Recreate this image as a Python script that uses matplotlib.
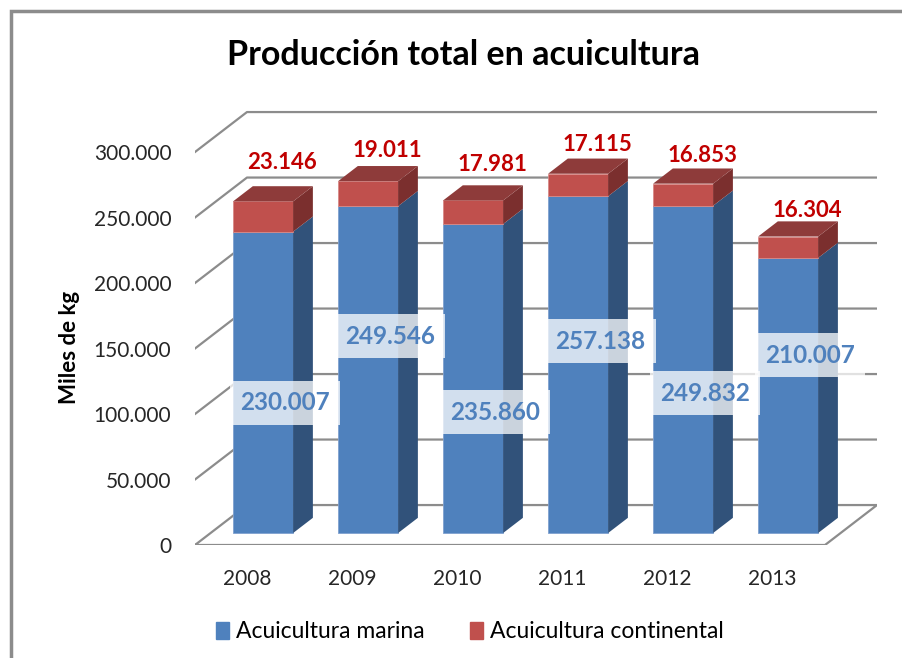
import matplotlib
matplotlib.use('Agg')
import matplotlib.pyplot as plt
from matplotlib.patches import Patch, Rectangle
from matplotlib.ticker import FuncFormatter
import numpy as np

plt.rcParams['font.family'] = ['Lato', 'DejaVu Sans']

# datos
anios = ['2008', '2009', '2010', '2011', '2012', '2013']
marina = [230007, 249546, 235860, 257138, 249832, 210007]
continental = [23146, 19011, 17981, 17115, 16853, 16304]
etiquetas_marina = ['230.007', '249.546', '235.860', '257.138', '249.832', '210.007']
etiquetas_cont = ['23.146', '19.011', '17.981', '17.115', '16.853', '16.304']

# disposicion de las etiquetas (como en el original de Excel)
y_etiq_marina = [108400, 159500, 101500, 155700, 116000, 145000]
y_etiq_cont = [292000, 301100, 290500, 305700, 297300, 255300]

# perspectiva oblicua
DX = 0.495      # desplazamiento en x por profundidad completa
DY = 30500      # desplazamiento en y por profundidad completa
D1, D2 = 0.30, 0.68   # profundidad de las barras
ANCHO = 0.572

azul, azul_lado = '#4F81BD', '#31527A'
rojo, rojo_top, rojo_lado = '#C0504D', '#8E3B3A', '#7B2F2E'
gris = '#8C8C8C'


def proy(x, y, d):
    return x + d * DX, y + d * DY


def caja(ax, xc, y0, y1, c_frente, c_lado, c_top=None):
    x0, x1 = xc - ANCHO / 2, xc + ANCHO / 2
    # frente
    pts = [proy(x0, y0, D1), proy(x1, y0, D1), proy(x1, y1, D1), proy(x0, y1, D1)]
    ax.fill(*zip(*pts), color=c_frente, zorder=3, lw=0.6, ec='#7FA0CF' if c_frente == azul else '#D98A88')
    # lado
    pts = [proy(x1, y0, D1), proy(x1, y0, D2), proy(x1, y1, D2), proy(x1, y1, D1)]
    ax.fill(*zip(*pts), color=c_lado, zorder=3, lw=0)
    if c_top is not None:
        pts = [proy(x0, y1, D1), proy(x1, y1, D1), proy(x1, y1, D2), proy(x0, y1, D2)]
        ax.fill(*zip(*pts), color=c_top, zorder=3, lw=0)


W, H = 903, 658
fig = plt.figure(figsize=(W / 100, H / 100), dpi=100)
ax = fig.add_axes([195 / W, 113 / H, (877 - 195) / W, 445 / H])
n = len(anios)
ax.set_xlim(-0.5, n - 0.5 + DX)
ax.set_ylim(0, 339700)

# paredes y piso
ticks = np.arange(0, 300001, 50000)
for t in ticks[1:]:
    ax.plot([-0.5, -0.5 + DX, n - 0.5 + DX], [t, t + DY, t + DY], color=gris, lw=1.6, zorder=1)
piso = [proy(-0.5, 0, 0), proy(n - 0.5, 0, 0), proy(n - 0.5, 0, 1), proy(-0.5, 0, 1), proy(-0.5, 0, 0)]
ax.plot(*zip(*piso), color=gris, lw=1.6, zorder=1)

# barras
for i in range(n):
    caja(ax, i, 0, marina[i], azul, azul_lado)
    caja(ax, i, marina[i], marina[i] + continental[i], rojo, rojo_lado, rojo_top)
    ax.text(i + 0.36, y_etiq_marina[i], etiquetas_marina[i], color=azul, fontsize=17.5,
            fontweight='bold', ha='center', va='center', zorder=5,
            bbox=dict(boxstyle='square,pad=0.42', fc='white', ec='none', alpha=0.75))
    ax.text(i + 0.33, y_etiq_cont[i], etiquetas_cont[i], color='#C00000', fontsize=16,
            fontweight='bold', ha='center', va='center', zorder=5)

ax.set_yticks(ticks)
ax.yaxis.set_major_formatter(FuncFormatter(lambda v, p: f'{int(v):,}'.replace(',', '.')))
ax.set_xticks(range(n))
ax.set_xticklabels(anios)
ax.tick_params(axis='y', length=0, pad=17, labelsize=15, labelcolor='#262626')
ax.tick_params(axis='x', length=0, pad=17, labelsize=15, labelcolor='#262626')
for s in ax.spines.values():
    s.set_visible(False)
ax.patch.set_visible(False)

fig.text(464 / W, 1 - 55 / H, 'Producción total en acuicultura', fontsize=24.5,
         fontweight='bold', ha='center', va='center')
fig.text(70 / W, 1 - 347 / H, 'Miles de kg', fontsize=16, fontweight='bold',
         rotation=90, ha='center', va='center')

handles = [Patch(color=azul, label='Acuicultura marina'),
           Patch(color=rojo, label='Acuicultura continental')]
fig.legend(handles=handles, loc='center', bbox_to_anchor=(470 / W, 1 - 632 / H), ncol=2,
           frameon=False, fontsize=16.5, handlelength=0.55, handleheight=0.7,
           handletextpad=0.3, columnspacing=2.0)

fig.add_artist(Rectangle((11 / W, -0.1), 2, 1.1 - 11 / H, transform=fig.transFigure,
                         fill=False, ec=gris, lw=2.5))

fig.savefig('out.png', dpi=100)
